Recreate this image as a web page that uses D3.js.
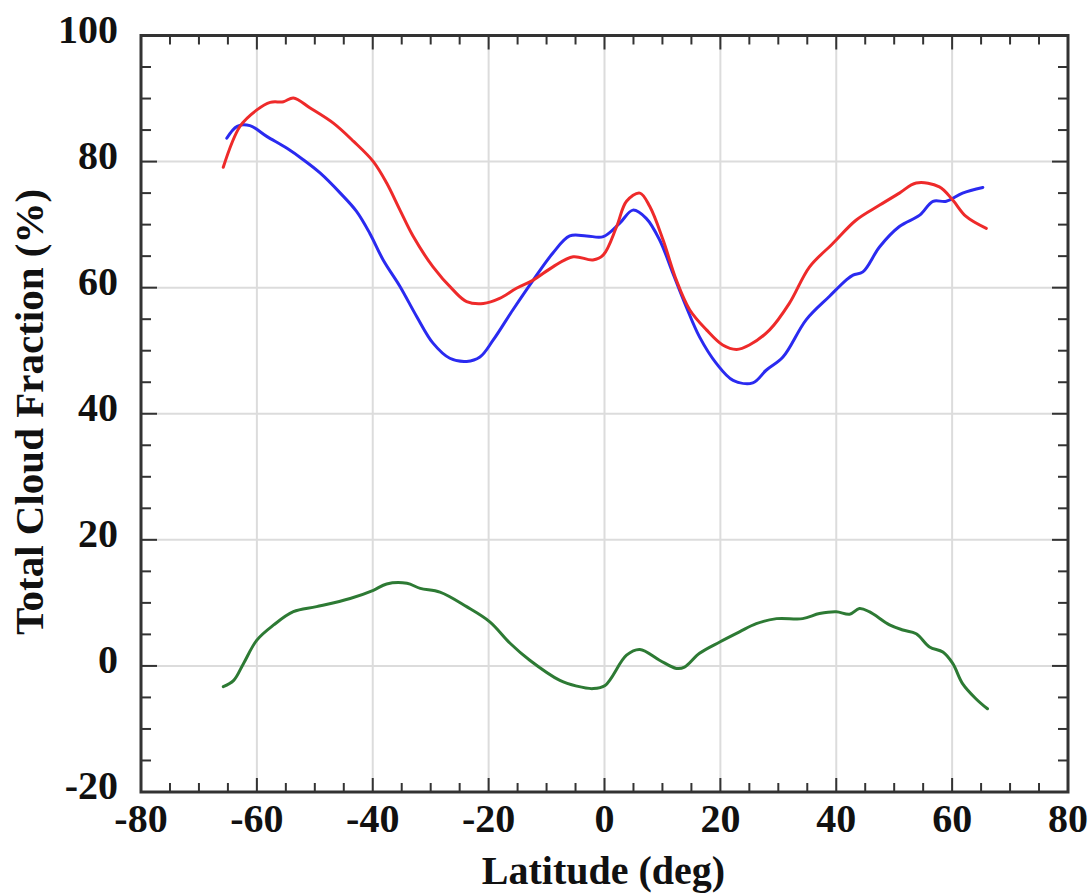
<!DOCTYPE html>
<html><head><meta charset="utf-8">
<script src="https://cdn.jsdelivr.net/npm/d3@7/dist/d3.min.js"></script>
<style>
html,body{margin:0;padding:0;background:#fff;}
svg{display:block;}
text{font-family:"Liberation Serif","Times New Roman",serif;font-weight:bold;fill:#111;}
</style></head>
<body><svg id="c" width="1090" height="896"></svg>
<script>
// ---- data ----
const xTicks = [-80,-60,-40,-20,0,20,40,60,80];
const yTicks = [-20,0,20,40,60,80,100];
const xLabel = "Latitude (deg)";
const yLabel = "Total Cloud Fraction (%)";

const redLat = [-65.8,-62.9,-60,-57.7,-55.4,-53.7,-50.8,-46.8,-43.3,-39.9,-37.6,-35.3,-33.0,-29.6,-26.1,-23.8,-20.9,-18.1,-15.2,-12.3,-8.9,-5.4,-2.0,-0.2,2.1,3.8,6.1,7.8,10.1,12.4,14.7,17.6,20.4,22.8,25.0,28.5,31.9,35.4,39.4,43.4,47.5,50.9,53.8,57.8,60.1,62.4,65.9];
const redVal = [79.1,85.6,88.2,89.4,89.5,90.1,88.5,86.1,83.2,80.0,76.6,72.3,68.1,63.3,59.6,57.8,57.5,58.3,59.9,61.2,63.3,64.9,64.4,65.2,69.7,73.7,75.0,72.9,67.6,61.2,56.5,53.3,50.9,50.2,50.9,53.3,57.5,63.3,67.0,70.7,73.1,75.0,76.6,76.0,73.9,71.3,69.4];

const blueLat = [-65.2,-63.4,-61.2,-58.3,-54.8,-52.0,-49.1,-45.6,-42.8,-40.5,-38.2,-35.3,-32.4,-29.6,-26.7,-23.8,-21.5,-19.2,-15.8,-12.3,-8.9,-6.0,-3.1,-0.2,2.6,4.9,7.2,9.5,11.8,14.1,16.4,19.3,22.2,25.6,27.9,30.8,34.8,38.8,41.7,42.9,44.6,47.5,50.9,54.4,56.7,59.0,61.8,65.3];
const blueVal = [83.7,85.6,85.7,84.0,82.1,80.3,78.2,75.0,72.1,68.6,64.4,60.2,55.4,51.2,48.8,48.3,49.0,51.7,56.5,61.2,65.5,68.2,68.2,68.1,70.2,72.3,71.0,67.6,62.3,57.0,52.2,48.0,45.3,44.9,46.9,49.0,54.9,58.6,61.2,62.0,62.5,66.5,69.7,71.5,73.7,73.7,75.0,75.9];

const greenLat = [-65.8,-64.0,-62.3,-60,-57.1,-53.7,-49.7,-43.9,-39.9,-37.6,-34.1,-31.8,-28.4,-23.8,-19.8,-16.3,-12.9,-7.7,-4.8,-2.0,0.1,3.8,6.1,9.5,12.4,13.8,16.4,19.9,23.3,26.2,29.7,34.2,37.1,40,42.3,44.0,45.7,49.2,51.5,53.8,56.1,58.4,60.1,61.8,64.1,66.1];
const greenVal = [-3.3,-2.3,0.4,4.1,6.5,8.6,9.4,10.7,12.0,13.0,13.1,12.3,11.7,9.4,7.0,3.6,0.9,-2.3,-3.2,-3.6,-3.1,1.7,2.6,0.9,-0.4,-0.2,2.0,3.8,5.4,6.7,7.5,7.5,8.3,8.6,8.2,9.1,8.6,6.5,5.7,5.1,3.0,2.2,0.4,-2.8,-5.2,-6.8];

const seriesColors = {red:"#ee2a2a", blue:"#2a2af0", green:"#2d7a34"};

// ---- chart ----
const svg = d3.select("#c");
const L=141, R=1068, T=35.5, B=792;
const x = d3.scaleLinear().domain([-80,80]).range([L,R]);
const y = d3.scaleLinear().domain([-20,100]).range([B,T]);

// grid
const g = svg.append("g");
g.selectAll(".gx").data(xTicks.slice(1,-1)).join("line")
  .attr("x1",d=>x(d)).attr("x2",d=>x(d)).attr("y1",T).attr("y2",B)
  .attr("stroke","#dcdcdc").attr("stroke-width",2);
g.selectAll(".gy").data(yTicks.slice(1,-1)).join("line")
  .attr("y1",d=>y(d)).attr("y2",d=>y(d)).attr("x1",L).attr("x2",R)
  .attr("stroke","#dcdcdc").attr("stroke-width",2);

// minor ticks
const xMinor = d3.range(-80,80.1,5).filter(v=>v%20!==0);
const yMinor = d3.range(-20,100.1,5).filter(v=>v%20!==0);
const tk = svg.append("g").attr("stroke","#333").attr("stroke-width",2);
xMinor.forEach(v=>{
  tk.append("line").attr("x1",x(v)).attr("x2",x(v)).attr("y1",B).attr("y2",B-9);
  tk.append("line").attr("x1",x(v)).attr("x2",x(v)).attr("y1",T).attr("y2",T+9);
});
yMinor.forEach(v=>{
  tk.append("line").attr("y1",y(v)).attr("y2",y(v)).attr("x1",L).attr("x2",L+10);
  tk.append("line").attr("y1",y(v)).attr("y2",y(v)).attr("x1",R).attr("x2",R-10);
});
xTicks.forEach(v=>{
  tk.append("line").attr("x1",x(v)).attr("x2",x(v)).attr("y1",B).attr("y2",B-14);
  tk.append("line").attr("x1",x(v)).attr("x2",x(v)).attr("y1",T).attr("y2",T+14);
});
yTicks.forEach(v=>{
  tk.append("line").attr("y1",y(v)).attr("y2",y(v)).attr("x1",L).attr("x2",L+16);
  tk.append("line").attr("y1",y(v)).attr("y2",y(v)).attr("x1",R).attr("x2",R-16);
});

// lines
const line = d3.line().x(d=>x(d[0])).y(d=>y(d[1])).curve(d3.curveCatmullRom.alpha(0.5));
function draw(lat,val,col){
  svg.append("path").datum(lat.map((v,i)=>[v,val[i]]))
    .attr("d",line).attr("fill","none").attr("stroke",col)
    .attr("stroke-width",3).attr("stroke-linejoin","round").attr("stroke-linecap","round");
}
draw(greenLat,greenVal,seriesColors.green);
draw(blueLat,blueVal,seriesColors.blue);
draw(redLat,redVal,seriesColors.red);

// frame
svg.append("rect").attr("x",L).attr("y",T).attr("width",R-L).attr("height",B-T)
  .attr("fill","none").attr("stroke","#333").attr("stroke-width",3);

// tick labels
svg.append("g").selectAll("text").data(xTicks).join("text")
  .attr("x",d=>x(d)).attr("y",832).attr("text-anchor","middle")
  .attr("font-size",40).text(d=>d);
svg.append("g").selectAll("text").data(yTicks).join("text")
  .attr("x",118).attr("y",d=>y(d)+7).attr("text-anchor","end")
  .attr("font-size",40).text(d=>d);

// axis labels
svg.append("text").attr("x",(L+R)/2-1).attr("y",884).attr("text-anchor","middle")
  .attr("font-size",40).text(xLabel);
svg.append("text").attr("transform","translate(43,412) rotate(-90)").attr("text-anchor","middle")
  .attr("font-size",41).text(yLabel);
</script></body></html>
